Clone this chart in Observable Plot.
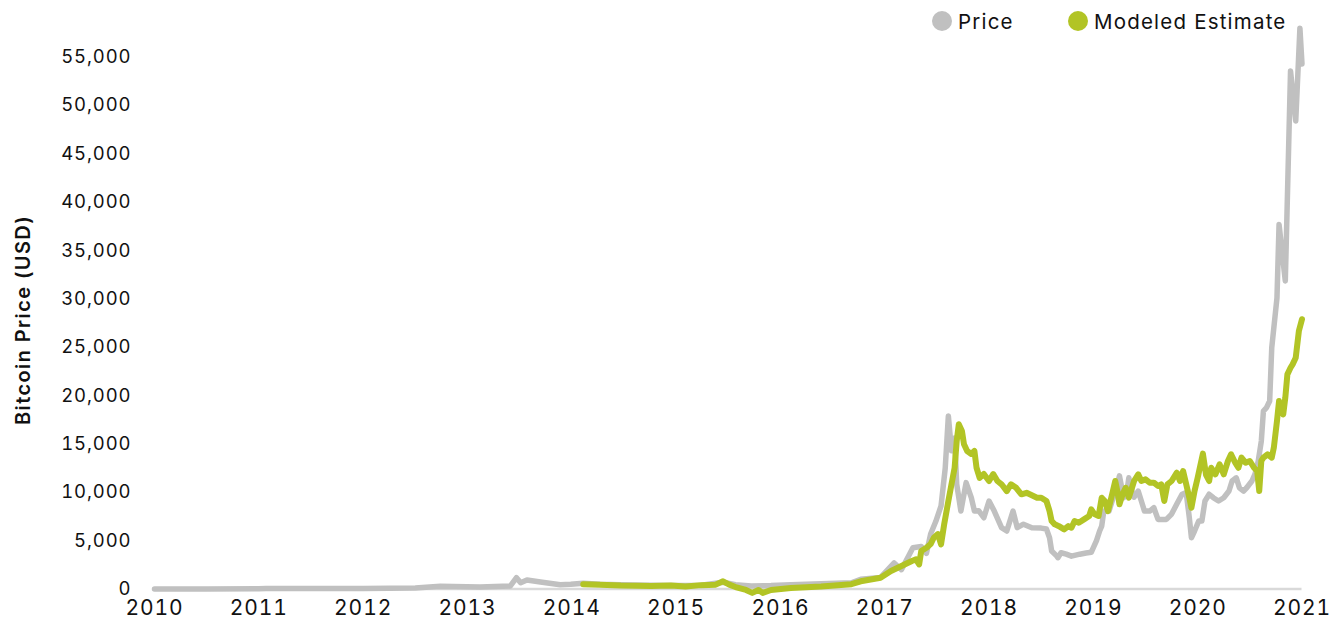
<!DOCTYPE html>
<html>
<head>
<meta charset="utf-8">
<script src="https://cdn.jsdelivr.net/npm/d3@7"></script>
<script src="https://cdn.jsdelivr.net/npm/@observablehq/plot@0.6"></script>
<style>
  html, body { margin: 0; padding: 0; background: #fff; }
  #wrap { position: relative; width: 1341px; height: 629px; font-family: Inter, "Liberation Sans", sans-serif; }
  #chart svg text { letter-spacing: 0.9px; }
  .item { position: absolute; top: 11px; height: 20px; display: flex; align-items: center; font-size: 20.5px; letter-spacing: 1.2px; color: #111; white-space: nowrap; }
  .sw { width: 20px; height: 20px; border-radius: 50%; display: inline-block; margin-right: 6px; flex: none; }
  #ylabel { position: absolute; left: 23px; top: 320px; transform: translate(-50%, -50%) rotate(-90deg); white-space: nowrap; font-size: 20px; letter-spacing: 1.4px; font-weight: 600; color: #111; }
</style>
</head>
<body>
<div id="wrap">
  <div id="chart"></div>
  <div id="ylabel">Bitcoin Price (USD)</div>
</div>
<script>
const seriesNames = ["Price", "Modeled Estimate"];
const seriesColors = ["#c0c0c0", "#b2c425"];
const legendLeft = [932, 1068];
const xTicks = [2010, 2011, 2012, 2013, 2014, 2015, 2016, 2017, 2018, 2019, 2020, 2021];
const yTicks = [0, 5000, 10000, 15000, 20000, 25000, 30000, 35000, 40000, 45000, 50000, 55000];

const priceYears = [2010.00, 2010.50, 2011.00, 2011.07, 2011.45, 2012.00, 2012.50, 2012.74, 2013.12, 2013.41, 2013.47, 2013.51, 2013.57, 2013.70, 2013.89, 2013.99, 2014.11, 2014.27, 2014.47, 2014.76, 2015.04, 2015.24, 2015.45, 2015.57, 2015.72, 2015.91, 2016.10, 2016.39, 2016.68, 2016.77, 2016.96, 2017.09, 2017.16, 2017.27, 2017.35, 2017.40, 2017.44, 2017.49, 2017.54, 2017.58, 2017.61, 2017.64, 2017.67, 2017.69, 2017.73, 2017.78, 2017.83, 2017.86, 2017.90, 2017.95, 2018.00, 2018.05, 2018.12, 2018.17, 2018.23, 2018.27, 2018.33, 2018.41, 2018.50, 2018.55, 2018.58, 2018.60, 2018.65, 2018.66, 2018.69, 2018.74, 2018.79, 2018.87, 2018.93, 2018.98, 2019.00, 2019.03, 2019.06, 2019.08, 2019.10, 2019.15, 2019.19, 2019.23, 2019.25, 2019.29, 2019.32, 2019.34, 2019.37, 2019.39, 2019.43, 2019.46, 2019.49, 2019.54, 2019.58, 2019.62, 2019.70, 2019.75, 2019.80, 2019.85, 2019.89, 2019.92, 2019.94, 2019.97, 2020.01, 2020.04, 2020.07, 2020.11, 2020.15, 2020.20, 2020.25, 2020.30, 2020.33, 2020.37, 2020.40, 2020.44, 2020.47, 2020.52, 2020.55, 2020.58, 2020.61, 2020.63, 2020.66, 2020.69, 2020.71, 2020.76, 2020.78, 2020.84, 2020.89, 2020.94, 2020.98, 2021.00];
const priceValues = [0, 5, 20, 60, 40, 60, 100, 280, 200, 300, 1170, 650, 930, 720, 450, 500, 600, 500, 450, 400, 350, 400, 700, 450, 300, 350, 450, 550, 650, 1000, 1200, 2700, 2000, 4270, 4400, 3700, 5680, 7000, 8600, 12500, 17900, 14300, 15600, 10850, 8060, 11000, 9440, 8060, 8100, 7370, 9100, 8060, 6340, 6000, 8060, 6340, 6700, 6340, 6300, 6200, 5300, 3930, 3400, 3240, 3750, 3600, 3400, 3600, 3720, 3800, 4270, 5000, 6000, 6500, 8060, 8060, 9440, 10850, 11700, 9440, 10000, 11500, 10130, 9500, 10130, 9100, 8060, 8060, 8400, 7200, 7200, 7750, 8800, 9800, 9960, 7370, 5300, 6000, 7030, 7030, 9100, 9800, 9440, 9100, 9440, 10130, 11170, 11500, 10470, 10130, 10470, 11170, 11900, 13200, 15300, 18400, 18750, 19440, 24950, 30100, 37700, 31850, 53560, 48400, 58000, 54300];

const modelYears = [2014.11, 2014.27, 2014.47, 2014.76, 2014.95, 2015.09, 2015.24, 2015.38, 2015.45, 2015.51, 2015.57, 2015.67, 2015.73, 2015.79, 2015.83, 2015.91, 2016.10, 2016.39, 2016.68, 2016.77, 2016.96, 2017.06, 2017.16, 2017.26, 2017.30, 2017.33, 2017.35, 2017.40, 2017.44, 2017.47, 2017.51, 2017.54, 2017.57, 2017.61, 2017.64, 2017.67, 2017.69, 2017.71, 2017.74, 2017.76, 2017.79, 2017.83, 2017.86, 2017.88, 2017.91, 2017.95, 2018.00, 2018.04, 2018.08, 2018.12, 2018.17, 2018.21, 2018.26, 2018.31, 2018.36, 2018.41, 2018.46, 2018.50, 2018.55, 2018.58, 2018.60, 2018.63, 2018.67, 2018.72, 2018.76, 2018.79, 2018.82, 2018.86, 2018.91, 2018.96, 2018.98, 2019.01, 2019.05, 2019.08, 2019.11, 2019.14, 2019.18, 2019.21, 2019.23, 2019.25, 2019.28, 2019.31, 2019.34, 2019.37, 2019.39, 2019.43, 2019.46, 2019.50, 2019.54, 2019.58, 2019.62, 2019.65, 2019.68, 2019.71, 2019.75, 2019.80, 2019.83, 2019.86, 2019.89, 2019.92, 2019.94, 2019.97, 2020.00, 2020.05, 2020.08, 2020.11, 2020.13, 2020.17, 2020.21, 2020.25, 2020.29, 2020.32, 2020.36, 2020.39, 2020.42, 2020.46, 2020.50, 2020.54, 2020.57, 2020.59, 2020.61, 2020.63, 2020.67, 2020.71, 2020.73, 2020.76, 2020.78, 2020.80, 2020.82, 2020.84, 2020.86, 2020.89, 2020.91, 2020.94, 2020.97, 2021.00];
const modelValues = [500, 450, 350, 300, 350, 250, 400, 450, 800, 450, 200, -100, -400, -100, -400, -100, 100, 250, 500, 800, 1170, 1860, 2380, 2900, 3070, 2550, 3930, 4270, 4650, 5300, 5680, 4620, 6690, 9100, 10830, 12540, 15300, 17030, 16340, 14960, 14270, 13960, 14270, 12540, 11500, 11890, 11170, 11890, 11170, 10830, 10130, 10830, 10470, 9790, 9950, 9700, 9440, 9440, 9100, 8060, 7030, 6690, 6500, 6170, 6500, 6340, 7030, 6860, 7200, 7550, 8240, 7750, 7550, 9440, 9100, 8060, 9790, 11170, 10130, 8760, 9790, 10470, 9440, 10470, 11170, 11860, 11170, 11340, 11000, 11000, 10650, 10830, 9100, 10830, 11170, 12030, 11170, 12200, 10830, 9440, 8400, 10130, 11510, 14000, 11800, 11170, 12540, 11860, 12890, 11860, 13240, 13930, 13060, 12540, 13580, 13060, 13240, 12540, 12200, 10130, 13240, 13580, 13930, 13580, 14610, 17370, 19440, 18750, 18060, 19780, 22200, 22880, 23230, 23920, 26680, 27900];

const price = priceYears.map((t, i) => ({t, v: priceValues[i], s: seriesNames[0]}));
const model = modelYears.map((t, i) => ({t, v: modelValues[i], s: seriesNames[1]}));

const chart = Plot.plot({
  width: 1341,
  height: 629,
  marginLeft: 154,
  marginRight: 39.5,
  marginTop: 56.7,
  marginBottom: 40.5,
  style: {fontFamily: "Inter, 'Liberation Sans', sans-serif", color: "#111", background: "#fff"},
  x: {domain: [2010, 2021], label: null},
  y: {domain: [0, 55000], label: null},
  color: {domain: seriesNames, range: seriesColors},
  marks: [
    Plot.ruleY([0], {stroke: "#d9d9d9", strokeWidth: 2.5}),
    Plot.axisY({ticks: yTicks, tickSize: 0, tickPadding: 23, fontSize: 18.5, tickFormat: d => d3.format(",")(d), label: null}),
    Plot.axisX({ticks: xTicks, tickSize: 0, tickPadding: 11, fontSize: 21, tickFormat: d => String(d), label: null}),
    Plot.line(price, {x: "t", y: "v", stroke: "s", strokeWidth: 5.5, strokeLinejoin: "round", strokeLinecap: "round"}),
    Plot.line(model, {x: "t", y: "v", stroke: "s", strokeWidth: 6, strokeLinejoin: "round", strokeLinecap: "round"})
  ]
});
document.getElementById("chart").appendChild(chart);

const wrap = document.getElementById("wrap");
seriesNames.forEach((name, i) => {
  const item = document.createElement("div");
  item.className = "item";
  item.style.left = legendLeft[i] + "px";
  const sw = document.createElement("span");
  sw.className = "sw";
  sw.style.background = seriesColors[i];
  const lab = document.createElement("span");
  lab.textContent = name;
  item.appendChild(sw);
  item.appendChild(lab);
  wrap.appendChild(item);
});
</script>
</body>
</html>
